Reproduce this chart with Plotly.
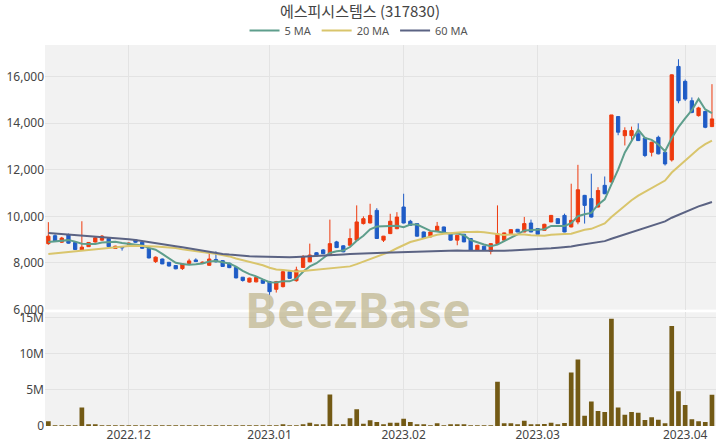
import pandas as pd
import plotly.graph_objects as go

# ---------------- data ----------------
holidays = ["2022-12-30", "2023-01-23", "2023-01-24", "2023-03-01"]
dates = [d.strftime("%Y-%m-%d") for d in pd.bdate_range("2022-11-15", "2023-04-07")
         if d.strftime("%Y-%m-%d") not in holidays]

open_ = [8830, 9170, 8890, 9200, 8880, 8560, 8700, 8900, 8980, 9050,
         8620, 8700, 8800, 8990, 8890, 8630, 8060, 8170, 8030, 7890,
         7760, 7980, 8130, 8000, 7900, 8150, 8100, 7990, 7810, 7390,
         7180, 7190, 7270, 7200, 6870, 6985, 7625, 7240, 7810, 8050,
         8440, 8560, 8340, 8905, 8735, 8760, 8980, 9690, 9715, 10256,
         8980, 9260, 9470, 10400, 9790, 9690, 9330, 9120, 9360, 9545,
         9230, 8980, 9230, 9050, 8550, 8720, 8500, 8830, 8980, 9260,
         9445, 9330, 9715, 9475, 9400, 9760, 9900, 10040, 9545, 9760,
         10900, 10760, 10400, 11330, 11470, 14280, 13460, 13460, 13540, 13360,
         12750, 13390, 12750, 12420, 16430, 15790, 14960, 14320, 14500, 13850]
high = [9750, 9230, 9120, 9260, 8900, 9790, 8900, 9120, 9200, 9080,
        8740, 8720, 8880, 9030, 8920, 8650, 8280, 8190, 8040, 7900,
        7980, 8180, 8200, 8060, 8460, 8500, 8120, 8010, 7830, 7400,
        7370, 7400, 7290, 7230, 7230, 7650, 7650, 7840, 8340, 8830,
        8470, 8600, 9860, 8950, 8760, 9475, 10470, 10000, 10540, 10350,
        9160, 10110, 10180, 10970, 9850, 9700, 9350, 9350, 9760, 9560,
        9250, 9200, 9250, 9060, 8780, 8740, 8840, 10470, 9300, 9440,
        9460, 9975, 9860, 9490, 9680, 10060, 9920, 10115, 11400, 12210,
        10920, 11830, 11250, 11710, 14350, 14300, 13820, 13850, 13990, 13380,
        13200, 13460, 12770, 16090, 16740, 15870, 15100, 14700, 14520, 15670]
low = [8780, 8900, 8860, 8830, 8560, 8540, 8690, 8880, 8960, 8680,
       8600, 8530, 8790, 8870, 8600, 8200, 8000, 7950, 7850, 7730,
       7700, 7960, 8040, 7990, 7880, 8020, 7830, 7780, 7340, 7200,
       7160, 7170, 7100, 6630, 6730, 6950, 7320, 7200, 7790, 8030,
       8280, 8380, 8320, 8640, 8460, 8740, 8950, 9650, 9700, 9030,
       8900, 9240, 9450, 9700, 9600, 9130, 9060, 9100, 9340, 9270,
       8960, 8760, 8890, 8530, 8530, 8540, 8370, 8810, 8960, 9240,
       9320, 9320, 9320, 9220, 9390, 9750, 9680, 9320, 9530, 9660,
       9690, 9950, 10380, 10950, 11450, 13480, 13040, 13250, 13230, 12540,
       12570, 12660, 12180, 12350, 14850, 14950, 14420, 14280, 13780, 13830]
close = [9150, 8930, 9070, 8850, 8580, 8680, 8880, 9080, 9150, 8700,
         8720, 8650, 8850, 8890, 8630, 8215, 8250, 7960, 7870, 7750,
         7960, 8090, 8060, 8030, 8170, 8050, 7850, 7800, 7360, 7250,
         7350, 7380, 7130, 6770, 7200, 7625, 7340, 7700, 8265, 8340,
         8300, 8400, 8830, 8660, 8480, 9050, 9760, 9900, 10040, 9050,
         9150, 9790, 9970, 9715, 9615, 9150, 9075, 9330, 9575, 9290,
         8980, 9190, 8905, 8550, 8760, 8550, 8830, 9250, 9290, 9430,
         9330, 9690, 9330, 9230, 9660, 10040, 9690, 9330, 9830, 11140,
         10470, 9970, 11110, 10970, 14350, 13610, 13680, 13680, 13250, 12610,
         13180, 12680, 12250, 16070, 14960, 15030, 14460, 14650, 13820, 14180]
volume = [0.65, 0.08, 0.06, 0.07, 0.05, 2.57, 0.12, 0.20, 0.08, 0.06,
          0.04, 0.05, 0.03, 0.04, 0.05, 0.06, 0.04, 0.05, 0.03, 0.04,
          0.04, 0.03, 0.05, 0.04, 0.08, 0.07, 0.04, 0.03, 0.05, 0.04,
          0.03, 0.04, 0.03, 0.05, 0.06, 0.10, 0.06, 0.08, 0.18, 0.44,
          0.10, 0.12, 4.36, 0.20, 0.18, 1.06, 2.30, 0.32, 0.78, 0.55,
          0.20, 0.45, 0.45, 1.00, 0.55, 0.20, 0.10, 0.06, 0.37, 0.06,
          0.10, 0.10, 0.10, 0.08, 0.05, 0.05, 0.05, 6.10, 0.37, 0.37,
          0.23, 0.73, 0.18, 0.18, 0.28, 0.46, 0.14, 0.41, 7.38, 9.20,
          1.40, 3.40, 2.07, 1.93, 14.80, 2.57, 1.56, 1.93, 1.84, 0.83,
          1.20, 0.88, 0.37, 13.80, 4.80, 2.90, 0.92, 0.64, 0.55, 4.30]

# moving averages: leading values (history before window)
ma5_head = [8900, 8930, 8960, 8980]
ma20_head = [8390, 8420, 8450, 8480, 8510, 8540, 8570, 8600, 8630, 8660,
             8690, 8710, 8730, 8740, 8740, 8730, 8710, 8690, 8670]
ma60_head = [9290, 9270, 9250, 9230, 9210, 9190, 9170, 9150, 9130, 9110,
             9080, 9050, 9020, 8990, 8950, 8910, 8870, 8820, 8770, 8720,
             8670, 8620, 8570, 8520, 8470, 8430, 8390, 8360, 8330, 8310,
             8290, 8280, 8270, 8260, 8250, 8250, 8250, 8260, 8270, 8280,
             8290, 8300, 8320, 8340, 8360, 8380, 8400, 8410, 8420, 8430,
             8440, 8450, 8460, 8470, 8480, 8490, 8500, 8510, 8520]

month_starts = ["2022-12-01", "2023-01-02", "2023-02-01", "2023-03-02", "2023-04-03"]
month_labels = ["2022.12", "2023.01", "2023.02", "2023.03", "2023.04"]
price_ticks = [6000, 8000, 10000, 12000, 14000, 16000]
vol_ticks = [0, 5, 10, 15]
vol_labels = ["0", "5M", "10M", "15M"]

title_text = "에스피시스템스 (317830)"

# ---------------- derived ----------------
cs = pd.Series(close, dtype=float)
def ma(n, head):
    s = cs.rolling(n).mean()
    s.iloc[:len(head)] = head
    return s.tolist()

ma5 = ma(5, ma5_head)
ma20 = ma(20, ma20_head)
ma60 = ma(60, ma60_head)
idx = list(range(len(dates)))
vol_abs = [v * 1e6 for v in volume]

UP = "#ee3a0e"
DOWN = "#1f5cc6"
FONT = "Noto Sans, Noto Sans CJK KR, sans-serif"

fig = go.Figure()
fig.add_trace(go.Candlestick(
    x=idx, open=open_, high=high, low=low, close=close,
    increasing=dict(line=dict(color=UP, width=1), fillcolor=UP),
    decreasing=dict(line=dict(color=DOWN, width=1), fillcolor=DOWN),
    whiskerwidth=0, showlegend=False, xaxis="x", yaxis="y"))
fig.add_trace(go.Scatter(x=idx, y=ma5, mode="lines", name="5 MA",
                         line=dict(color="#5e9e8c", width=2), xaxis="x", yaxis="y"))
fig.add_trace(go.Scatter(x=idx, y=ma20, mode="lines", name="20 MA",
                         line=dict(color="#d9c56c", width=2), xaxis="x", yaxis="y"))
fig.add_trace(go.Scatter(x=idx, y=ma60, mode="lines", name="60 MA",
                         line=dict(color="#5b6383", width=2), xaxis="x", yaxis="y"))
fig.add_trace(go.Bar(x=idx, y=vol_abs, marker=dict(color="#735a15", line=dict(width=0)),
                     showlegend=False, xaxis="x2", yaxis="y2"))

tickpos = [dates.index(d) for d in month_starts]
xrange = [-0.5, len(dates) - 0.4]
grid = "#e3e3e3"
axfont = dict(family=FONT, size=12, color="#444")

fig.update_layout(
    width=720, height=448,
    margin=dict(l=45, r=4, t=45, b=22),
    paper_bgcolor="white", plot_bgcolor="#f2f2f2",
    title=dict(text=title_text, x=0.5, xanchor="center", y=0.985, yanchor="top",
               font=dict(family="Noto Sans CJK KR, sans-serif", size=15, color="#444")),
    legend=dict(orientation="h", x=0.468, xanchor="center", y=1.0, yanchor="bottom",
                font=dict(family=FONT, size=11, color="#555"), itemwidth=30,
                bgcolor="rgba(0,0,0,0)", tracegroupgap=0),
    bargap=0.3,
    showlegend=True,
    xaxis=dict(domain=[0, 1], range=xrange, tickvals=tickpos, ticktext=month_labels,
               showticklabels=False, showgrid=True, gridcolor=grid, zeroline=False,
               rangeslider=dict(visible=False), anchor="y", matches="x2"),
    yaxis=dict(domain=[0.3055, 1], range=[6000, 17350], tickvals=price_ticks,
               tickformat=",", showgrid=True, gridcolor=grid, zeroline=False,
               tickfont=axfont, ticks="", anchor="x"),
    xaxis2=dict(domain=[0, 1], range=xrange, tickvals=tickpos, ticktext=month_labels,
                showgrid=True, gridcolor=grid, zeroline=False, tickfont=axfont,
                ticks="", anchor="y2"),
    yaxis2=dict(domain=[0, 0.2984], range=[0, 15.7e6], tickvals=[v * 1e6 for v in vol_ticks],
                ticktext=vol_labels, showgrid=True, gridcolor=grid, zeroline=False,
                tickfont=axfont, ticks="", anchor="x2"),
    annotations=[dict(text="<b>BeezBase</b>", xref="paper", yref="paper",
                      x=0.466, y=0.306, xanchor="center", yanchor="middle",
                      showarrow=False,
                      font=dict(family="Noto Sans, sans-serif", size=48,
                                color="rgba(180,168,120,0.6)"))],
)

fig.write_html("out.html", config={"displayModeBar": False},
               post_script="document.body.style.margin='0px';document.body.style.overflow='hidden';")
